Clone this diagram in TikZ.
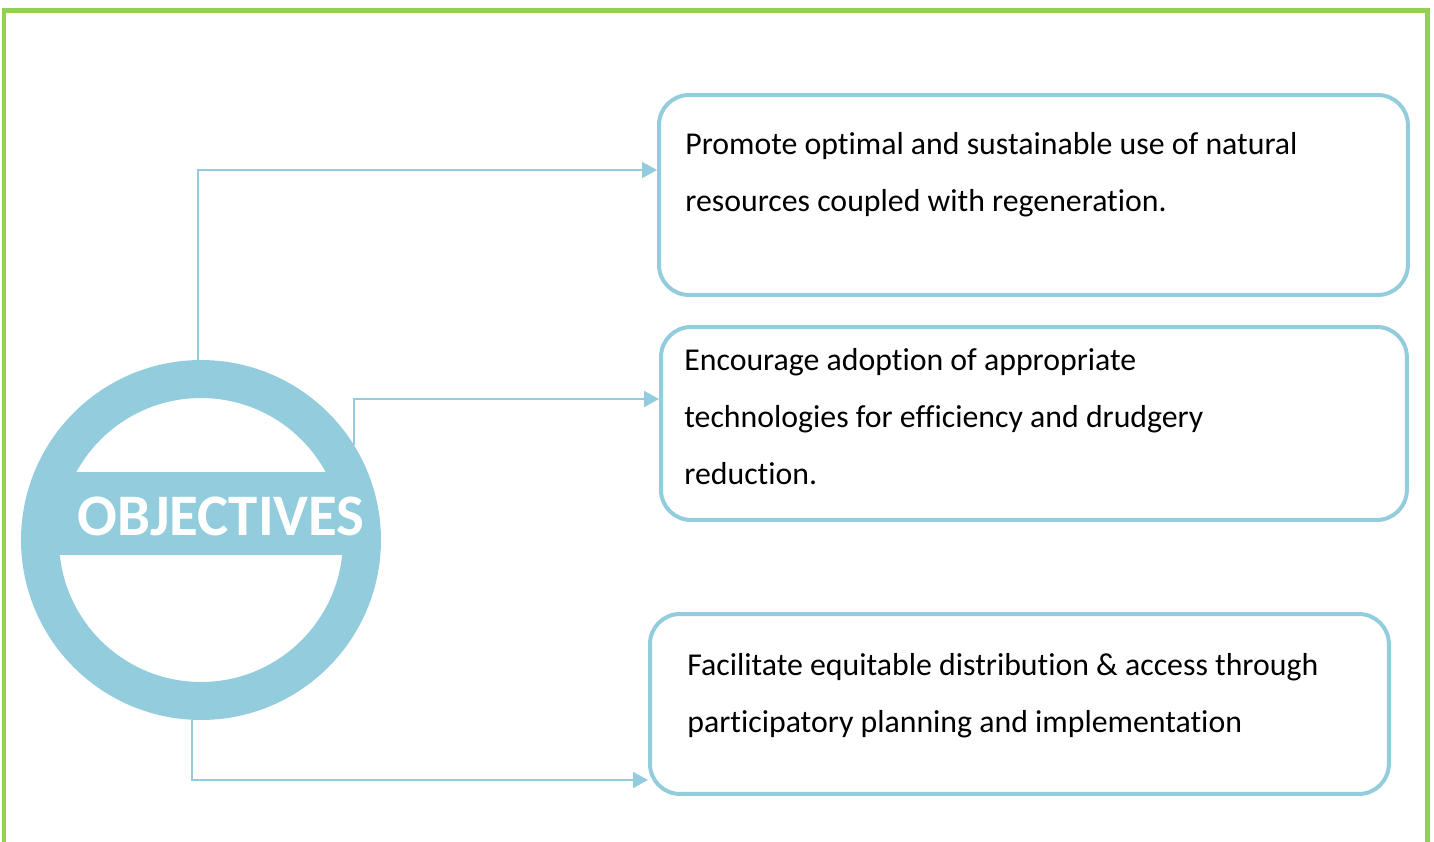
\documentclass[tikz,border=0pt]{standalone}
\usepackage{fontspec}
\setmainfont[Ligatures=NoCommon]{Carlito}
\usetikzlibrary{arrows.meta,positioning}
\definecolor{aqua}{HTML}{93CDDD}
\definecolor{leaf}{HTML}{92D050}

\begin{document}
\begin{tikzpicture}[x=0.02cm,y=-0.02cm]
        \tikzset{goal/.style = {draw=aqua, line width=0.08cm, rounded corners=0.6cm, anchor=north west}}
        \tikzset{goaltext/.style = {anchor=north west, inner sep=0pt, align=left, font=\fontsize{18.1}{32.4}\selectfont}}
        \tikzset{link/.style = {-{Triangle[length=0.3cm,width=0.32cm]}, draw=aqua, line width=0.04cm}}
        \useasboundingbox (0,0) rectangle (1434,842);
        % frame
        \draw[leaf, line width=0.1cm] (4,842) -- (4,10) -- (1427,10) -- (1427,842);
        % hub
        \node[circle, draw=aqua, line width=0.76cm, minimum size=6.44cm] (obj) at (201,540) {};
        \begin{scope}
          \clip (obj.center) circle (2.86cm);
          \fill[aqua] (0,472) rectangle (1434,555);
        \end{scope}
        \node[text=white, font=\fontsize{33.5}{33.5}\selectfont\bfseries] (title) at (221,516) {OBJECTIVES};
        % boxes
        \node[goal, minimum width=14.98cm, minimum height=4cm] (b1) at (657,93) {};
        \node[goal, minimum width=14.92cm, minimum height=3.86cm] (b2) at (659,325) {};
        \node[goal, minimum width=14.78cm, minimum height=3.6cm] (b3) at (648,612) {};
        \node[goaltext] (t1) at (685,132) {Promote optimal and sustainable use of natural\\resources coupled with regeneration.};
        \node[goaltext] (t2) at (684,348) {Encourage adoption of appropriate\\technologies for efficiency and drudgery\\reduction.};
        \node[goaltext] (t3) at (687,653) {Facilitate equitable distribution \& access through\\participatory planning and implementation};
        %edges
        \coordinate (y1) at (0,170);
        \coordinate (y2) at (0,399);
        \coordinate (y3) at (0,780);
        \draw[link] (obj.91) |- (b1.west |- y1);
        \draw[link] (obj.32) |- (b2.west |- y2);
        \draw[link] (obj.267) |- (b3.west |- y3);
\end{tikzpicture}
\end{document}
